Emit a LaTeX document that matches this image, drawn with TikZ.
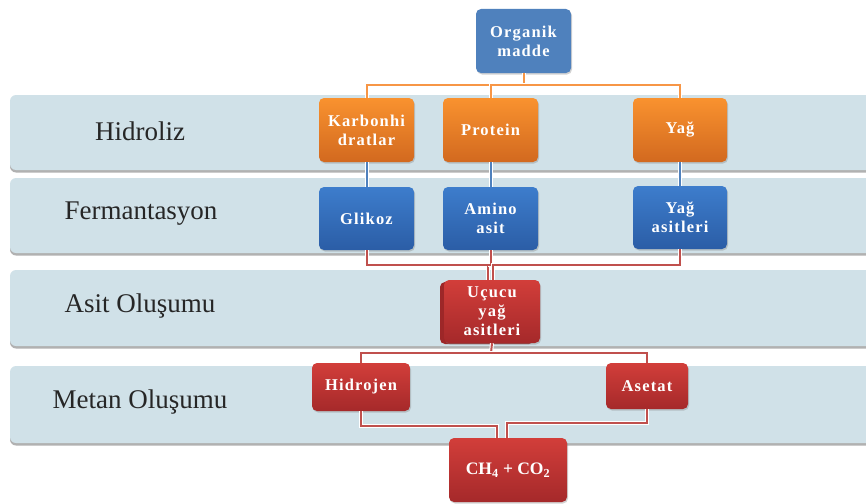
\documentclass[tikz,border=0pt]{standalone}
\usepackage{fontspec}
\setmainfont{Liberation Serif}
\newfontfamily\boxfont[LetterSpace=7]{Liberation Serif}
\usetikzlibrary{shadows}

\definecolor{bandfill}{HTML}{D0E1E8}
\definecolor{bandshade}{HTML}{9E9E9E}
\definecolor{topblue}{HTML}{4F81BD}
\definecolor{blueA}{HTML}{3D7DCC}
\definecolor{blueB}{HTML}{2B5DA6}
\definecolor{orangeA}{HTML}{F9922F}
\definecolor{orangeB}{HTML}{D2691F}
\definecolor{redA}{HTML}{D23E3A}
\definecolor{redB}{HTML}{A5292A}
\definecolor{lineorange}{HTML}{F79646}
\definecolor{lineblue}{HTML}{4F81BD}
\definecolor{linered}{HTML}{C0504D}

\tikzset{
  band/.style={fill=bandfill, rounded corners=6pt,
    drop shadow={shadow xshift=0pt, shadow yshift=-2.5pt, fill=bandshade, opacity=0.8}},
  stage/.style={font=\fontsize{27}{30}\selectfont, text=black!85},
  box/.style={rectangle, rounded corners=5pt, align=center, text=white,
    font=\boxfont\bfseries\fontsize{16.5}{19}\selectfont, inner sep=2pt,
    drop shadow={shadow xshift=1pt, shadow yshift=-1.5pt, opacity=0.35}},
  bluetop/.style={box, fill=topblue},
  bluebox/.style={box, top color=blueA, bottom color=blueB},
  orangebox/.style={box, top color=orangeA, bottom color=orangeB},
  redbox/.style={box, top color=redA, bottom color=redB},
  link/.style={line width=2pt, preaction={draw=white, line width=4pt}},
  olink/.style={link, draw=lineorange},
  blink/.style={link, draw=lineblue},
  rlink/.style={link, draw=linered},
}

\begin{document}
\begin{tikzpicture}[x=1pt, y=-1pt]
\useasboundingbox (0,0) rectangle (866,503);
\fill[white] (0,0) rectangle (866,503);

% stage bands
\path[band] (10,95) rectangle (885,170);
\path[band] (10,178) rectangle (885,253);
\path[band] (10,270) rectangle (885,346);
\path[band] (10,366) rectangle (885,443);

\node[stage] (lh) at (140,131) {Hidroliz};
\node[stage] (lf) at (141,214) {Fermantasyon};
\node[stage] (la) at (140,306) {Asit Oluşumu};
\node[stage] (lm) at (140,402) {Metan Oluşumu};

% connector junctions
\coordinate (o1) at (523.5,85);
\coordinate (m1) at (488,265);
\coordinate (m2) at (493,265);
\coordinate (s1) at (491,353);
\coordinate (c1) at (497,426);
\coordinate (c2) at (507,423);

% nodes
\node[bluetop, minimum width=95pt, minimum height=64pt] (org) at (523.5,41) {Organik\\madde};

\node[orangebox, minimum width=95pt, minimum height=64pt] (karb) at (366.5,130) {Karbonhi\\dratlar};
\node[orangebox, minimum width=95pt, minimum height=64pt] (prot) at (490.5,130) {Protein};
\node[orangebox, minimum width=94pt, minimum height=64pt] (yag) at (680,130) {Yağ};

% connectors drawn under the lower boxes
\draw[olink] (org.south) -- (o1);
\draw[olink] (o1) -| (karb.north);
\draw[olink] (o1) -| (prot.north);
\draw[olink] (o1) -| (yag.north);

\node[bluebox, minimum width=95pt, minimum height=63pt] (gli) at (366.5,218.5) {Glikoz};
\node[bluebox, minimum width=95pt, minimum height=63pt] (ami) at (490.5,218.5) {Amino\\asit};
\node[bluebox, minimum width=94pt, minimum height=63pt] (yas) at (680,217.5) {Yağ\\asitleri};

\draw[blink] (karb.south) -- (gli.north);
\draw[blink] (prot.south) -- (ami.north);
\draw[blink] (yag.south) -- (yas.north);

\draw[rlink] (gli.south) |- (m1) -- (488,282);
\draw[rlink] (ami.south) |- (m1);
\draw[rlink] (yas.south) |- (m2) -- (493,282);

% stacked volatile fatty acid box
\fill[redB!95!black, rounded corners=5pt] (440,282) rectangle (534,344);
\node[redbox, minimum width=96pt, minimum height=63pt] (ucu) at (492,311.5) {Uçucu\\yağ\\asitleri};

\node[redbox, minimum width=98pt, minimum height=48pt] (hid) at (361,387) {Hidrojen};
\node[redbox, minimum width=82pt, minimum height=46pt] (ase) at (647,386) {Asetat};

\draw[rlink] (ucu.south) -- (s1);
\draw[rlink] (s1) -| (hid.north);
\draw[rlink] (s1) -| (ase.north);

\node[redbox, minimum width=118pt, minimum height=64pt, font=\bfseries\fontsize{17.5}{20}\selectfont] (ch) at (508,470) {CH\textsubscript{4} + CO\textsubscript{2}};

\draw[rlink] (hid.south) |- (c1) -- (c1 |- ch.north);
\draw[rlink] (ase.south) |- (c2) -- (c2 |- ch.north);
\end{tikzpicture}
\end{document}
